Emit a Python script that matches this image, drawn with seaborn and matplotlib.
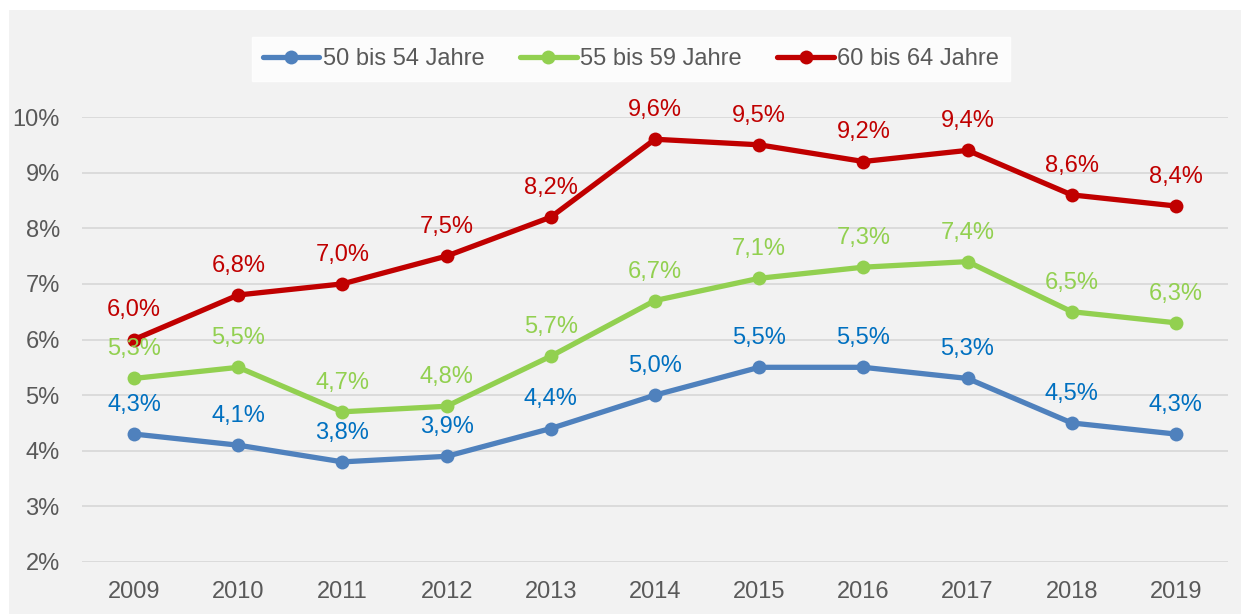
import pandas as pd
import numpy as np
import matplotlib.pyplot as plt
import seaborn as sns

# Data
years = [2009, 2010, 2011, 2012, 2013, 2014, 2015, 2016, 2017, 2018, 2019]
age_50_54 = [4.3, 4.1, 3.8, 3.9, 4.4, 5.0, 5.5, 5.5, 5.3, 4.5, 4.3]
age_55_59 = [5.3, 5.5, 4.7, 4.8, 5.7, 6.7, 7.1, 7.3, 7.4, 6.5, 6.3]
age_60_64 = [6.0, 6.8, 7.0, 7.5, 8.2, 9.6, 9.5, 9.2, 9.4, 8.6, 8.4]
groups = ["50 bis 54 Jahre", "55 bis 59 Jahre", "60 bis 64 Jahre"]

line_colors = ["#4F81BD", "#92D050", "#C00000"]
label_colors = ["#0070C0", "#92D050", "#C00000"]
txt_gray = "#595959"
fs = 17

df = pd.DataFrame({
    "Jahr": [str(y) for y in years] * 3,
    "Quote": age_50_54 + age_55_59 + age_60_64,
    "Gruppe": [g for g in groups for _ in years],
})

sns.set_style("white")
plt.rcParams["font.family"] = ["Liberation Sans", "DejaVu Sans"]

fig = plt.figure(figsize=(12.41, 6.14), dpi=100)
fig.patch.set_facecolor("white")
# gray chart area with a thin white margin at top/left
bg = fig.add_axes([9 / 1241, 0, 1 - 9 / 1241, 1 - 10 / 614])
bg.set_facecolor("#F2F2F2")
bg.set_xticks([])
bg.set_yticks([])
for s in bg.spines.values():
    s.set_visible(False)

ax = fig.add_axes([82 / 1241, 1 - 562 / 614, (1228 - 82) / 1241, (562 - 117) / 614])
ax.set_facecolor("none")

sns.lineplot(data=df, x="Jahr", y="Quote", hue="Gruppe", palette=line_colors,
             marker="o", markersize=10, markeredgewidth=0, linewidth=3.8,
             sort=False, ax=ax, legend=False, clip_on=False)

for g, lc in zip(groups, label_colors):
    sub = df[df["Gruppe"] == g]
    for i, (x, y) in enumerate(zip(sub["Jahr"], sub["Quote"])):
        ax.annotate(f"{y:.1f}%".replace(".", ","), (i, y), xytext=(0, 13),
                    textcoords="offset points", ha="center", va="bottom",
                    color=lc, fontsize=fs)

ax.set_xlim(-0.5, len(years) - 0.5)
ax.set_ylim(2, 10)
ax.set_yticks(range(2, 11))
ax.set_yticklabels([f"{v}%" for v in range(2, 11)])
ax.yaxis.grid(True, color="#D9D9D9", linewidth=1.3)
ax.xaxis.grid(False)
ax.tick_params(axis="both", length=0, labelsize=fs, labelcolor=txt_gray)
ax.tick_params(axis="y", pad=16)
ax.tick_params(axis="x", pad=14)
ax.set_xlabel("")
ax.set_ylabel("")
for s in ax.spines.values():
    s.set_visible(False)

handles = [plt.Line2D([], [], color=c, marker="o", markersize=10, linewidth=3.8,
                      markeredgewidth=0) for c in line_colors]
leg = fig.legend(handles, groups, loc="center", bbox_to_anchor=(631 / 1241, 1 - 59 / 614),
                 ncol=3, frameon=True, fancybox=False, fontsize=fs,
                 handlelength=2.4, handletextpad=0.15, columnspacing=1.5,
                 borderpad=0.45, borderaxespad=0)
leg.get_frame().set_facecolor("white")
leg.get_frame().set_edgecolor("white")
for t in leg.get_texts():
    t.set_color(txt_gray)

fig.savefig("out.png", dpi=100)
